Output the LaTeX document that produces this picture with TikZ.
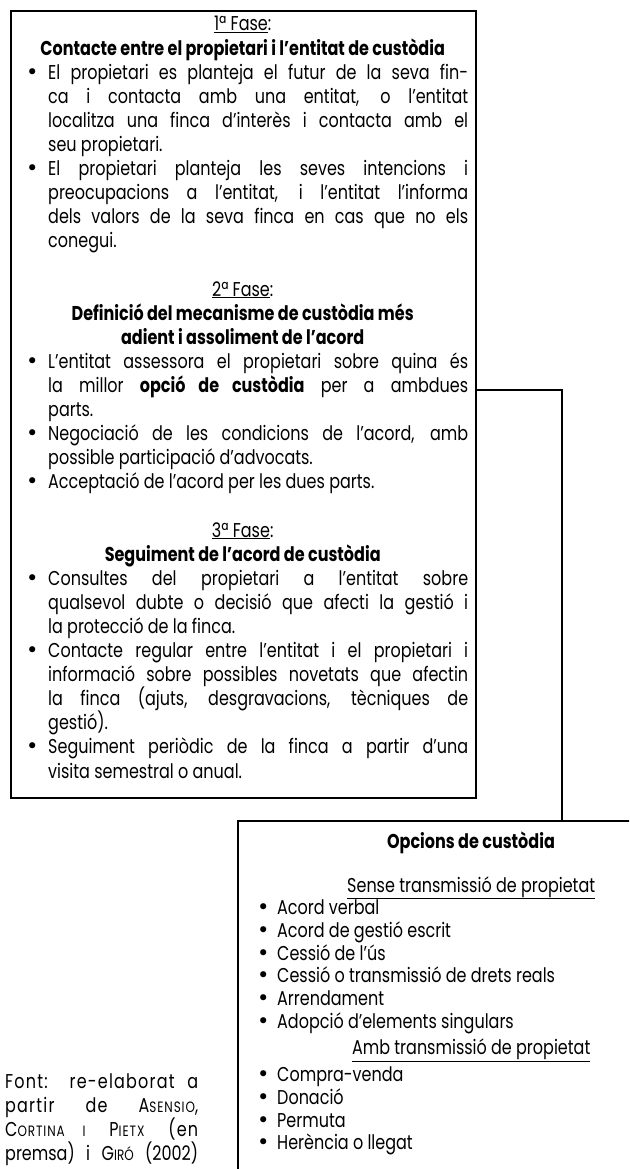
\documentclass[tikz,border=0pt]{standalone}
\usepackage{fontspec}
\setmainfont{Poppins}[FakeStretch=0.8]
\newfontfamily\dejavu{DejaVu Sans}
\newcommand\fsz{\fontsize{20pt}{24.1pt}\selectfont}
\newcommand\fszb{\fontsize{20pt}{22.7pt}\selectfont}
\newcommand\fszc{\fontsize{20pt}{24.2pt}\selectfont}
\newcommand\smc{\fontsize{15pt}{15pt}\selectfont}
\newcommand\bdot{{\dejavu\fontsize{21pt}{10pt}\selectfont •}}
\newcommand\bul[1]{\par\noindent\hspace*{9pt}\hangindent=31pt\hangafter=1\makebox[22pt][l]{\bdot}#1}
\newcommand\bl[1]{\par\noindent\hspace*{-1pt}\makebox[20pt][l]{\bdot}#1}
\newcommand\ttlfirst[1]{{\centering #1\par}}
\newcommand\ttl[1]{\par{\centering #1\par}}
\newcommand\ttlsp[1]{\par\vspace{4pt}{\centering #1\par}\vspace{4pt}}
\newcommand\blank{\par\vspace{\baselineskip}}
\tikzset{
  frame/.style={draw, line width=2.2pt, inner sep=0pt, anchor=north west},
  body/.style={anchor=base west, inner sep=0pt, align=none},
  link/.style={line width=1.7pt}
}
\begin{document}
\begin{tikzpicture}[x=1pt, y=-1pt]
\useasboundingbox (0,0) rectangle (629,1169);
\clip (0,0) rectangle (629,1169);
% boxes
\node[frame, minimum width=465pt, minimum height=787pt] (box1) at (10,10) {};
\node[frame, minimum width=520pt, minimum height=440pt] (box2) at (237,820) {};
% connector
\coordinate (c1) at (562,390);
\draw[link] (box1.east |- c1) -- (c1) -- (c1 |- box2.north);
% phases text
\node[body, text width=451pt, font=\fsz] (fases) at (17,31) {%
\hyphenpenalty=10000 \tolerance=10000
\ttlfirst{\underline{1ª Fase}:}
\ttl{\textbf{Contacte entre el propietari i l’entitat de custòdia}}
\bul{El propietari es planteja el futur de la seva fin-\linebreak ca i contacta amb una entitat, o l’entitat\linebreak localitza una finca d’interès i contacta amb el\linebreak seu propietari.}
\bul{El propietari planteja les seves intencions i\linebreak preocupacions a l’entitat, i l’entitat l’informa\linebreak dels valors de la seva finca en cas que no els\linebreak conegui.}
\blank
\ttl{\underline{2ª Fase}:}
\ttl{\textbf{Definició del mecanisme de custòdia més\\adient i assoliment de l’acord}}
\bul{L’entitat assessora el propietari sobre quina és\linebreak la millor \textbf{opció de custòdia} per a ambdues\linebreak parts.}
\bul{Negociació de les condicions de l’acord, amb\linebreak possible participació d’advocats.}
\bul{Acceptació de l’acord per les dues parts.}
\blank
\ttl{\underline{3ª Fase}:}
\ttl{\textbf{Seguiment de l’acord de custòdia}}
\bul{Consultes del propietari a l’entitat sobre\linebreak qualsevol dubte o decisió que afecti la gestió i\linebreak la protecció de la finca.}
\bul{Contacte regular entre l’entitat i el propietari i\linebreak informació sobre possibles novetats que afectin\linebreak la finca (ajuts, desgravacions, tècniques de\linebreak gestió).}
\bul{Seguiment periòdic de la finca a partir d’una\linebreak visita semestral o anual.}\par
};
% options
\node[anchor=base, inner sep=0pt, font=\fszb\bfseries] (otitle) at (471,848) {Opcions de custòdia};
\node[body, text width=426pt, font=\fszb] (opts) at (258,892) {%
\ttlfirst{\underline{Sense transmissió de propietat}}
\bl{Acord verbal}
\bl{Acord de gestió escrit}
\bl{Cessió de l’ús}
\bl{Cessió o transmissió de drets reals}
\bl{Arrendament}
\bl{Adopció d’elements singulars}
\ttlsp{\underline{Amb transmissió de propietat}}
\bl{Compra-venda}
\bl{Donació}
\bl{Permuta}
\bl{Herència o llegat}\par
};
% source
\node[body, text width=193pt, font=\fszc] (src) at (5,1088) {%
{\addfontfeature{LetterSpace=6}%
\makebox[193pt][s]{Font: re-elaborat a}\\
\makebox[193pt][s]{partir de A{\smc SENSIO},}\\
\makebox[193pt][s]{C{\smc ORTINA I} P{\smc IETX} (en}\\}%
\makebox[193pt][s]{premsa) i G{\smc IRÓ} (2002)}};
\end{tikzpicture}
\end{document}
